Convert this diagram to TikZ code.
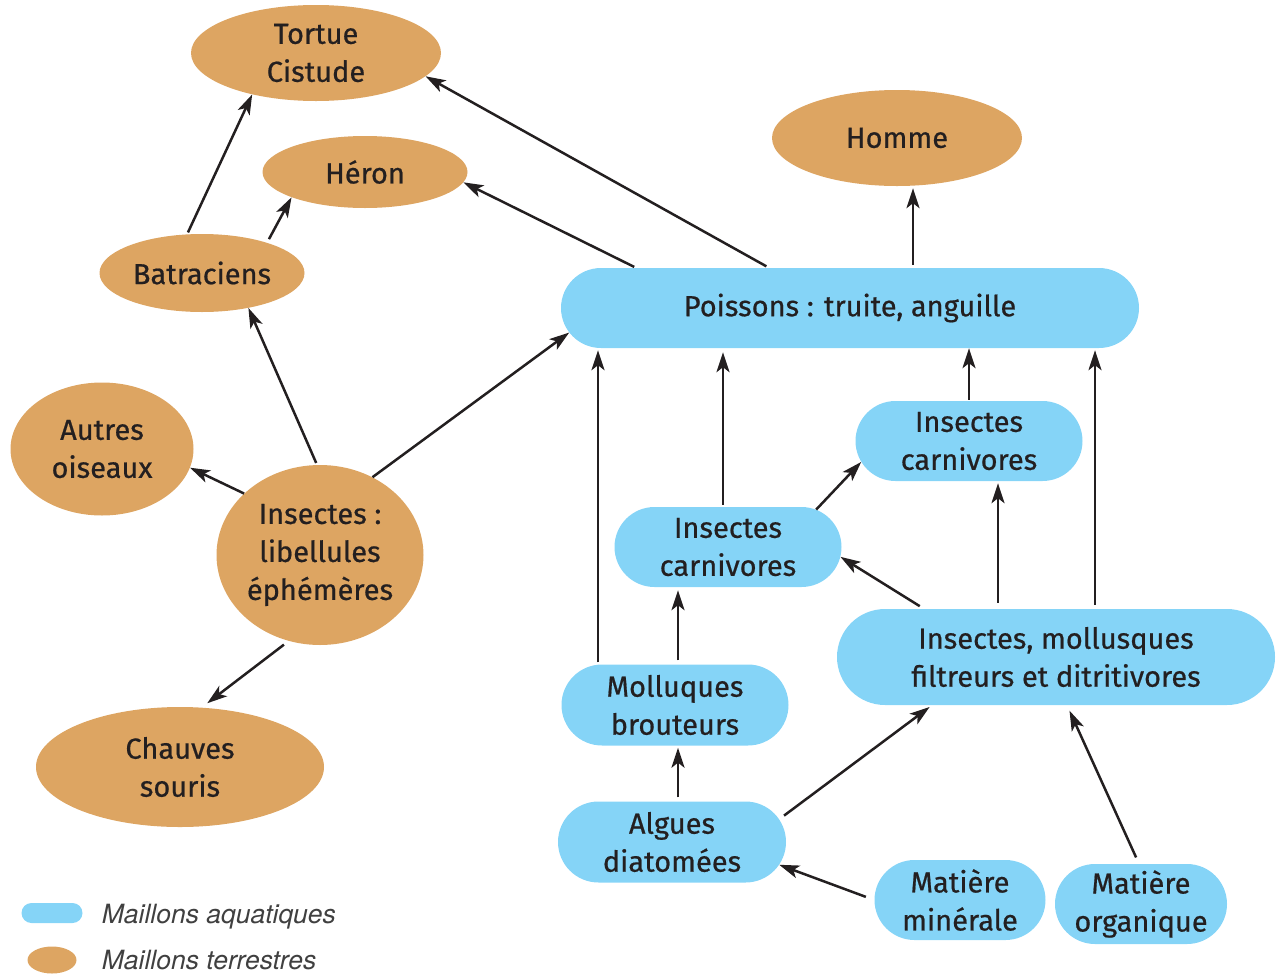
\documentclass[tikz,border=0pt]{standalone}
\usepackage{fontspec}
\setmainfont{Fira Sans}[FakeBold=0.6]
\newfontfamily\legfont{TeX Gyre Heros}
\usetikzlibrary{positioning,shapes.geometric,shapes.misc,arrows.meta}
\definecolor{aquacol}{RGB}{133,212,247}
\definecolor{terrecol}{RGB}{221,165,98}
\definecolor{txtcol}{RGB}{35,31,32}

\begin{document}
\begin{tikzpicture}[x=1pt,y=-1pt,
  every node/.style={font=\fontsize{29}{38}\selectfont, text=txtcol, align=center},
  terre/.style={ellipse, fill=terrecol, inner sep=0pt},
  aqua/.style={rounded rectangle, fill=aquacol, inner sep=0pt},
  aquapetit/.style={rectangle, rounded corners=40pt, fill=aquacol, inner sep=0pt},
  legende/.style={font=\legfont\itshape\fontsize{26.5}{30}\selectfont, text=black!75, inner sep=0pt},
  fleche/.style={-{Stealth[length=20pt,width=13pt,inset=5pt]}, draw=txtcol, line width=2.5pt}]
  \useasboundingbox (0,0) rectangle (1280,975);

  % maillons terrestres
  \node[terre, minimum width=250pt, minimum height=96pt] (tortue) at (316,53) {Tortue\\Cistude};
  \node[terre, minimum width=205pt, minimum height=72pt] (heron) at (365,172) {Héron};
  \node[terre, minimum width=250pt, minimum height=96pt] (homme) at (897,138) {Homme};
  \node[terre, minimum width=205pt, minimum height=78pt] (batra) at (202,273) {Batraciens};
  \node[terre, minimum width=183pt, minimum height=133pt] (oiseaux) at (102,449) {Autres\\oiseaux};
  \node[terre, minimum width=207pt, minimum height=180pt] (libel) at (320,555) {Insectes :\\libellules\\éphémères};
  \node[terre, minimum width=288pt, minimum height=120pt] (chauves) at (180,767) {Chauves\\souris};

  % maillons aquatiques
  \node[aqua, minimum width=578pt, minimum height=80pt] (poissons) at (850,308) {Poissons : truite, anguille};
  \node[aqua, minimum width=227pt, minimum height=80pt] (carniH) at (969,441) {Insectes\\carnivores};
  \node[aqua, minimum width=227pt, minimum height=80pt] (carniB) at (728,547) {Insectes\\carnivores};
  \node[aqua, minimum width=438pt, minimum height=96pt] (filtr) at (1056,657) {Insectes, mollusques\\filtreurs et ditritivores};
  \node[aqua, minimum width=227pt, minimum height=81pt] (brout) at (675,705) {Molluques\\brouteurs};
  \node[aqua, minimum width=228pt, minimum height=81pt] (algues) at (672,842) {Algues\\diatomées};
  \node[aquapetit, minimum width=171pt, minimum height=80pt] (miner) at (960,900) {Matière\\minérale};
  \node[aquapetit, minimum width=172pt, minimum height=80pt] (organ) at (1141,904) {Matière\\organique};

  % legende
  \node[aqua, minimum width=61pt, minimum height=20pt] (legA) at (52,913) {};
  \node[terre, minimum width=49pt, minimum height=27pt] (legT) at (52,960) {};
  \node[legende, right=19pt of legA, yshift=-4pt] (legAtxt) {Maillons aquatiques};
  \node[legende, right=25pt of legT] (legTtxt) {Maillons terrestres};

  % fleches
  \draw[fleche, shorten <=2pt] (batra.111) -- (tortue.213);
  \draw[fleche, shorten <=4pt] (batra.25) -- (heron.199);
  \draw[fleche, shorten <=3pt] ([xshift=-81pt]poissons.north) -- (tortue.-12);
  \draw[fleche, shorten <=2pt] ([xshift=-214pt]poissons.north) -- (heron.-6);
  \draw[fleche, shorten <=3pt, shorten >=2pt] ([xshift=63pt]poissons.north) -- ([xshift=16pt]homme.south);
  \draw[fleche, shorten <=2pt] ([xshift=-3pt]libel.north) -- (batra.-37);
  \draw[fleche] (libel.56) -- (poissons.185);
  \draw[fleche] (libel.141) -- (oiseaux.-12);
  \draw[fleche, shorten <=6pt, shorten >=7pt] (libel.250) -- (chauves.70);
  \draw[fleche, shorten <=2pt, shorten >=2pt] ([xshift=-77pt]brout.north) -- ([xshift=-252pt]poissons.south);
  \draw[fleche, shorten <=2pt, shorten >=4pt] ([xshift=-5pt]carniB.north) -- ([xshift=-127pt]poissons.south);
  \draw[fleche, shorten <=1pt] (carniH.north) -- ([xshift=119pt]poissons.south);
  \draw[fleche] (carniB.23) -- (carniH.191);
  \draw[fleche, shorten <=5pt] ([xshift=-132pt]filtr.north) -- (carniB.-5);
  \draw[fleche, shorten <=6pt, shorten >=2pt] ([xshift=-58pt]filtr.north) -- ([xshift=29pt]carniH.south);
  \draw[fleche, shorten <=4pt, shorten >=2pt] ([xshift=39pt]filtr.north) -- ([xshift=245pt]poissons.south);
  \draw[fleche, shorten <=4pt, shorten >=2pt] ([xshift=6pt]algues.north) -- ([xshift=3pt]brout.south);
  \draw[fleche, shorten <=4pt, shorten >=3pt] ([xshift=3pt]brout.north) -- ([xshift=-50pt]carniB.south);
  \draw[fleche, shorten <=6pt, shorten >=3pt] (algues.12) -- ([xshift=-124pt]filtr.south);
  \draw[fleche, shorten <=9pt] (miner.west) -- (algues.-12);
  \draw[fleche, shorten <=7pt, shorten >=6pt] ([xshift=-2pt]organ.north) -- ([xshift=11pt]filtr.south);
\end{tikzpicture}
\end{document}
